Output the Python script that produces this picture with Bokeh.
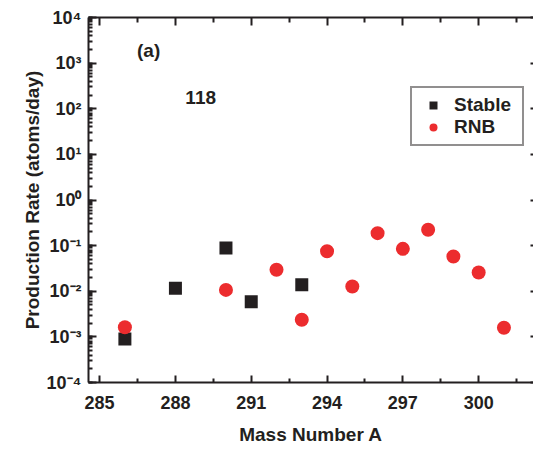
from bokeh.plotting import figure
from bokeh.models import (Range1d, FixedTicker, LogTicker, LinearAxis, LogAxis,
                          CustomJSTickFormatter, Label, Legend, LegendItem)
from bokeh.embed import file_html
from bokeh.resources import INLINE

# Production rates for element 118 isotopes
mass_stable = [286, 288, 290, 291, 293]
rate_stable = [9.0e-4, 1.16e-2, 8.9e-2, 5.9e-3, 1.38e-2]

mass_rnb = [286, 290, 292, 293, 294, 295, 296, 297, 298, 299, 300, 301]
rate_rnb = [1.63e-3, 1.07e-2, 2.95e-2, 2.37e-3, 7.55e-2, 1.27e-2,
            0.1875, 8.5e-2, 0.222, 5.78e-2, 2.58e-2, 1.58e-3]

x_ticks = [285, 288, 291, 294, 297, 300]
x_minor = [286.5, 289.5, 292.5, 295.5, 298.5, 301.5]

FONT = "Liberation Sans"
INK = "#231f20"

p = figure(width=533, height=450,
           x_range=Range1d(284.56, 302.17), y_range=Range1d(1e-4, 1e4),
           y_axis_type="log", output_backend="svg", toolbar_location=None,
           min_border_left=88, min_border_right=0, min_border_top=17,
           min_border_bottom=68)
p.outline_line_color = None
p.xgrid.visible = False
p.ygrid.visible = False
p.background_fill_color = "white"
p.border_fill_color = "white"

sup_fmt = CustomJSTickFormatter(code="""
const sup = {'-':'\u207b','0':'\u2070','1':'\u00b9','2':'\u00b2','3':'\u00b3',
             '4':'\u2074','5':'\u2075','6':'\u2076','7':'\u2077','8':'\u2078','9':'\u2079'};
const e = Math.round(Math.log10(tick));
return '10' + String(e).split('').map(c => sup[c]).join('');
""")

xt = FixedTicker(ticks=x_ticks, minor_ticks=x_minor)

# bottom axis
xa = p.xaxis[0]
xa.ticker = xt
xa.axis_label = "Mass Number A"
xa.axis_line_width = 2
xa.axis_line_color = INK
xa.major_tick_in = 7
xa.major_tick_out = 0
xa.minor_tick_in = 4
xa.minor_tick_out = 0
xa.major_tick_line_width = 2
xa.minor_tick_line_width = 2
xa.major_tick_line_color = INK
xa.minor_tick_line_color = INK
xa.major_label_standoff = 13
xa.major_label_text_font = FONT
xa.major_label_text_font_style = "bold"
xa.major_label_text_font_size = "18px"
xa.major_label_text_color = INK
xa.axis_label_standoff = 12
xa.axis_label_text_font = FONT
xa.axis_label_text_font_style = "bold"
xa.axis_label_text_font_size = "19px"
xa.axis_label_text_color = INK

# left axis
ya = p.yaxis[0]
ya.ticker = LogTicker(num_minor_ticks=10)
ya.formatter = sup_fmt
ya.axis_label = "Production Rate (atoms/day)"
ya.axis_line_width = 2
ya.axis_line_color = INK
ya.major_tick_in = 8
ya.major_tick_out = 0
ya.minor_tick_in = 4
ya.minor_tick_out = 0
ya.major_tick_line_width = 2
ya.minor_tick_line_width = 2
ya.major_tick_line_color = INK
ya.minor_tick_line_color = INK
ya.major_label_standoff = 7
ya.major_label_text_font = FONT
ya.major_label_text_font_style = "bold"
ya.major_label_text_font_size = "18px"
ya.major_label_text_color = INK
ya.axis_label_standoff = 1
ya.axis_label_text_font = FONT
ya.axis_label_text_font_style = "bold"
ya.axis_label_text_font_size = "19px"
ya.axis_label_text_color = INK

# top axis: ticks only, labels hidden
top = LinearAxis(ticker=xt, axis_line_width=2, axis_line_color=INK,
                 major_tick_in=8, major_tick_out=0, minor_tick_in=5, minor_tick_out=0,
                 major_tick_line_width=2, minor_tick_line_width=2,
                 major_tick_line_color=INK, minor_tick_line_color=INK,
                 major_label_text_font_size="1px", major_label_text_alpha=0,
                 major_label_standoff=0)
p.add_layout(top, "above")

# right axis: short inward decade ticks only
right = LogAxis(ticker=LogTicker(num_minor_ticks=0), axis_line_color=None,
                major_tick_in=3, major_tick_out=0, minor_tick_in=0, minor_tick_out=0,
                major_tick_line_width=2, major_tick_line_color=INK,
                major_label_text_font_size="1px", major_label_text_alpha=0,
                major_label_standoff=0)
p.add_layout(right, "right")

sq = p.scatter(mass_stable, rate_stable, marker="square", size=13,
               fill_color=INK, line_color=None)
rc = p.scatter(mass_rnb, rate_rnb, marker="circle", size=14,
               fill_color="#ec2c2e", line_color=None)

legend = Legend(items=[LegendItem(label="Stable", renderers=[sq]),
                       LegendItem(label="RNB", renderers=[rc])],
                location=(322, 236), border_line_color=INK, border_line_width=2,
                padding=6, spacing=0, margin=0, glyph_width=30, glyph_height=20,
                label_standoff=6, label_width=62,
                label_text_font=FONT, label_text_font_style="bold",
                label_text_font_size="19px", label_text_color=INK,
                background_fill_alpha=1)
p.add_layout(legend, "center")

p.add_layout(Label(x=286.94, y=1900, text="(a)", text_align="center",
                   text_baseline="middle", text_font=FONT, text_font_style="bold",
                   text_font_size="19px", text_color=INK))
p.add_layout(Label(x=289.0, y=178, text="118", text_align="center",
                   text_baseline="middle", text_font=FONT, text_font_style="bold",
                   text_font_size="19px", text_color=INK))

open("out.html", "w").write(file_html(p, INLINE))
